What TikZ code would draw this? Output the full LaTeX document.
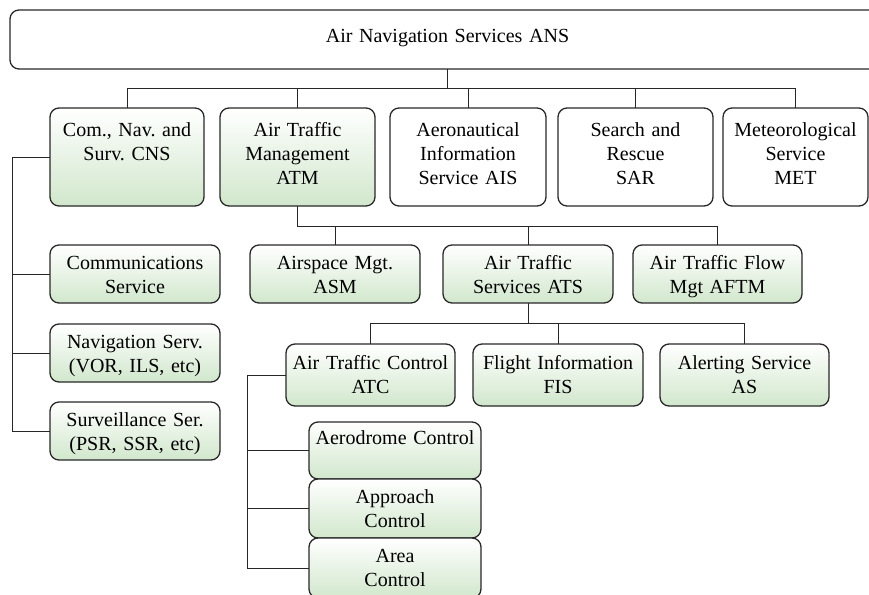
\documentclass[tikz,border=0pt]{standalone}
\usepackage{fontspec}
\setmainfont{Liberation Serif}
\frenchspacing
\definecolor{boxgreen}{RGB}{209,231,204}
\definecolor{edge}{RGB}{40,40,40}
\begin{document}
\begin{tikzpicture}[x=1pt, y=-1pt,
  box/.style={draw=edge, line width=1.3pt, rounded corners=9pt, inner sep=0pt,
    outer sep=0pt, align=center, anchor=north west,
    font=\fontsize{20}{24}\selectfont},
  gbox/.style={box, top color=white, bottom color=boxgreen},
  wbox/.style={box, fill=white},
  dims/.style n args={3}{text width=#1pt, text height=#2pt, text depth=#3pt},
  wire/.style={draw=black!85, line width=0.9pt}]
\useasboundingbox (0,0) rectangle (869,594);
\clip (0,0) rectangle (869,594);

% root
\node[wbox, dims={875}{32.5}{26.5}] (ans) at (10,10) {Air Navigation Services ANS};

% first level
\node[gbox, dims={154}{28.5}{69.5}] (cns) at (50,108) {Com., Nav. and\\Surv. CNS};
\node[gbox, dims={155}{28.5}{69.5}] (atm) at (220,108) {Air Traffic\\Management\\ATM};
\node[wbox, dims={156}{28.5}{69.5}] (ais) at (390,108) {Aeronautical\\Information\\Service AIS};
\node[wbox, dims={155}{28.5}{69.5}] (sar) at (558,108) {Search and\\Rescue\\SAR};
\node[wbox, dims={145}{28.5}{69.5}] (met) at (723,108) {Meteorological\\Service\\MET};

% CNS branch
\node[gbox, dims={170}{24.5}{33.5}] (comm) at (50,245) {Communications\\Service};
\node[gbox, dims={170}{24.5}{33.5}] (nav) at (50,324) {Navigation Serv.\\(VOR, ILS, etc)};
\node[gbox, dims={170}{24.5}{33.5}] (surv) at (50,402) {Surveillance Ser.\\(PSR, SSR, etc)};

% ATM branch
\node[gbox, dims={170}{24.5}{33.5}] (asm) at (250,245) {Airspace Mgt.\\ASM};
\node[gbox, dims={170}{24.5}{33.5}] (ats) at (443,245) {Air Traffic\\Services ATS};
\node[gbox, dims={169}{24.5}{33.5}] (aftm) at (633,245) {Air Traffic Flow\\Mgt AFTM};

% ATS branch
\node[gbox, dims={169}{25.5}{36.5}] (atc) at (286,344) {Air Traffic Control\\ATC};
\node[gbox, dims={170}{25.5}{36.5}] (fis) at (473,344) {Flight Information\\FIS};
\node[gbox, dims={169}{25.5}{36.5}] (alert) at (660,344) {Alerting Service\\AS};

% ATC branch
\node[gbox, dims={172}{22.5}{34.5}] (aero) at (309,422) {Aerodrome Control};
\node[gbox, dims={172}{24.5}{34.5}] (appr) at (309,479) {Approach\\Control};
\node[gbox, dims={172}{24.5}{35.5}] (area) at (309,538) {Area\\Control};

% root connectors
\coordinate (bus1) at (447,88);
\draw[wire] (ans.south) -- (ans.south |- bus1);
\draw[wire] (cns.north |- bus1) -- (met.north |- bus1);
\foreach \n in {cns,atm,ais,sar,met}
  \draw[wire] (\n.north |- bus1) -- (\n.north);

% CNS connectors
\coordinate (cbus) at (12,0);
\draw[wire] (cns.west) -| (surv.west -| cbus) -- (surv.west);
\draw[wire] (comm.west -| cbus) -- (comm.west);
\draw[wire] (nav.west -| cbus) -- (nav.west);

% ATM connectors
\coordinate (bus2) at (0,226);
\draw[wire] (atm.south) -- (atm.south |- bus2) -- (aftm.north |- bus2) -- (aftm.north);
\draw[wire] (asm.north |- bus2) -- (asm.north);
\draw[wire] (ats.north |- bus2) -- (ats.north);

% ATS connectors
\coordinate (bus3) at (0,323);
\draw[wire] (ats.south) -- (ats.south |- bus3);
\draw[wire] (atc.north |- bus3) -- (alert.north |- bus3);
\foreach \n in {atc,fis,alert}
  \draw[wire] (\n.north |- bus3) -- (\n.north);

% ATC connectors
\coordinate (abus) at (247,0);
\draw[wire] (atc.west) -| (area.west -| abus) -- (area.west);
\draw[wire] (aero.west -| abus) -- (aero.west);
\draw[wire] (appr.west -| abus) -- (appr.west);
\end{tikzpicture}
\end{document}
